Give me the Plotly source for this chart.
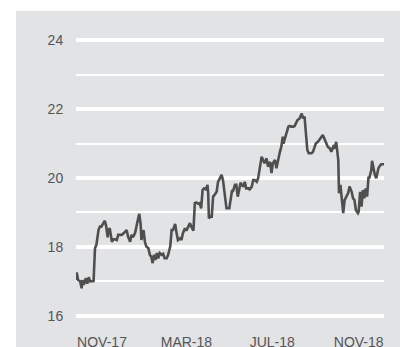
import pandas as pd
import plotly.graph_objects as go

start_date = "2017-09-25"
end_date = "2018-12-07"

day_offsets = [
    0, 1, 3, 6, 8, 9, 11, 14, 16, 18,
    20, 22, 25, 27, 29, 32, 34, 36, 39, 41,
    43, 45, 46, 48, 51, 53, 55, 58, 60, 65,
    68, 72, 74, 77, 79, 81, 84, 86, 89, 90,
    92, 93, 96, 98, 100, 103, 105, 107, 109, 111,
    113, 115, 117, 119, 122, 124, 126, 129, 131, 134,
    136, 138, 141, 143, 145, 148, 150, 152, 155, 157,
    160, 162, 164, 167, 169, 171, 174, 176, 178, 180,
    182, 185, 187, 188, 189, 191, 193, 195, 197, 200,
    202, 205, 207, 209, 211, 213, 214, 218, 220, 222,
    223, 226, 228, 230, 232, 234, 236, 238, 240, 242,
    245, 247, 250, 252, 254, 257, 259, 261, 264, 266,
    268, 271, 273, 276, 278, 280, 283, 285, 287, 290,
    292, 294, 295, 297, 299, 302, 304, 306, 309, 311,
    313, 315, 318, 321, 323, 325, 327, 328, 329, 331,
    335, 337, 339, 341, 344, 347, 349, 351, 354, 356,
    358, 361, 363, 366, 368, 370, 373, 374, 376, 377,
    380, 382, 384, 387, 389, 392, 394, 396, 398, 401,
    402, 404, 406, 408, 410, 412, 414, 416, 417, 420,
    421, 423, 425, 427, 430, 432, 434, 438,
]

values = [
    17.04, 17.26, 17.04, 17.00, 16.80, 17.04, 16.90, 17.09, 16.93, 17.12,
    17.00, 17.01, 17.01, 17.96, 18.06, 18.49, 18.59, 18.59, 18.71, 18.76,
    18.59, 18.28, 18.49, 18.54, 18.15, 18.22, 18.22, 18.20, 18.35, 18.35,
    18.40, 18.49, 18.30, 18.15, 18.35, 18.28, 18.40, 18.64, 18.88, 18.96,
    18.64, 18.20, 18.49, 18.15, 18.01, 17.96, 17.77, 17.72, 17.53, 17.77,
    17.62, 17.82, 17.67, 17.82, 17.77, 17.80, 17.67, 17.67, 17.77, 18.01,
    18.49, 18.49, 18.67, 18.40, 18.20, 18.25, 18.20, 18.40, 18.54, 18.47,
    18.64, 18.69, 18.59, 18.47, 19.27, 19.29, 19.25, 19.27, 19.12, 19.65,
    19.70, 19.67, 19.80, 19.56, 18.83, 18.88, 18.88, 19.46, 19.51, 19.60,
    19.89, 20.04, 20.09, 19.94, 19.60, 19.36, 19.12, 19.12, 19.46, 19.65,
    19.60, 19.80, 19.80, 19.46, 19.65, 19.86, 19.80, 19.75, 19.89, 19.70,
    19.70, 19.67, 19.75, 19.94, 19.94, 19.89, 19.99, 20.28, 20.62, 20.52,
    20.43, 20.57, 20.33, 20.47, 20.14, 20.43, 20.52, 20.28, 20.52, 20.76,
    20.91, 21.20, 21.00, 21.15, 21.29, 21.49, 21.51, 21.49, 21.49, 21.51,
    21.60, 21.68, 21.73, 21.87, 21.73, 21.78, 21.29, 20.91, 20.81, 20.72,
    20.72, 20.76, 20.91, 21.00, 21.05, 21.15, 21.20, 21.25, 21.10, 21.00,
    20.91, 20.86, 20.76, 20.91, 20.86, 21.05, 20.52, 19.56, 19.80, 19.60,
    18.98, 19.36, 19.46, 19.56, 19.75, 19.60, 19.41, 19.36, 19.07, 18.98,
    19.02, 19.60, 19.17, 19.65, 19.41, 19.70, 19.46, 20.04, 19.99, 20.23,
    20.50, 20.28, 20.09, 19.99, 20.28, 20.35, 20.40, 20.40,
]
assert len(day_offsets) == len(values)

x_tick_dates = ["2017-11-01", "2018-03-01", "2018-07-01", "2018-11-01"]
x_tick_labels = ["NOV-17", "MAR-18", "JUL-18", "NOV-18"]
y_tick_vals = [16, 18, 20, 22, 24]
y_tick_labels = ["16", "18", "20", "22", "24"]

dates = pd.Timestamp(start_date) + pd.to_timedelta(day_offsets, unit="D")

BG = "#e2e3e5"
TXT = "#555555"
W, H = 400, 347
ML, MR, MT, MB = 76, 16, 35, 26
PW, PH = W - ML - MR, H - MT - MB

fig = go.Figure()
fig.add_trace(go.Scatter(
    x=dates, y=values, mode="lines",
    line=dict(color="#4f4f4f", width=2.6),
    hoverinfo="skip", showlegend=False,
))

fig.update_layout(
    width=W, height=H,
    margin=dict(l=ML, r=MR, t=MT, b=MB, pad=0, autoexpand=False),
    paper_bgcolor="white",
    plot_bgcolor=BG,
    font=dict(family="Liberation Sans, Arial, sans-serif", size=14, color=TXT),
    shapes=[dict(type="rect", xref="paper", yref="paper",
                 x0=(16 - ML) / PW, x1=1 + (MR + 5) / PW,
                 y0=-(MB + 5) / PH, y1=1 + (MT - 11) / PH,
                 fillcolor=BG, line=dict(width=0), layer="below")],
)

fig.update_xaxes(
    type="date", automargin=False,
    range=[start_date, end_date],
    tickvals=x_tick_dates, ticktext=x_tick_labels,
    showgrid=False, zeroline=False, showline=False,
    ticks="outside", ticklen=8, tickcolor="rgba(0,0,0,0)",
    tickfont=dict(size=14, color=TXT),
)
fig.update_yaxes(
    automargin=False,
    range=[15.85, 24.15],
    tickvals=y_tick_vals, ticktext=y_tick_labels,
    showgrid=True, gridcolor="white", gridwidth=4,
    minor=dict(dtick=1, tick0=16, showgrid=True, gridcolor="white", gridwidth=2),
    zeroline=False, showline=False,
    ticks="outside", ticklen=9, tickcolor="rgba(0,0,0,0)",
    tickfont=dict(size=14, color=TXT),
)

fig.write_html(
    "out.html",
    config={"staticPlot": True, "displayModeBar": False},
    post_script="document.body.style.margin='0';document.body.style.overflow='hidden';",
)
